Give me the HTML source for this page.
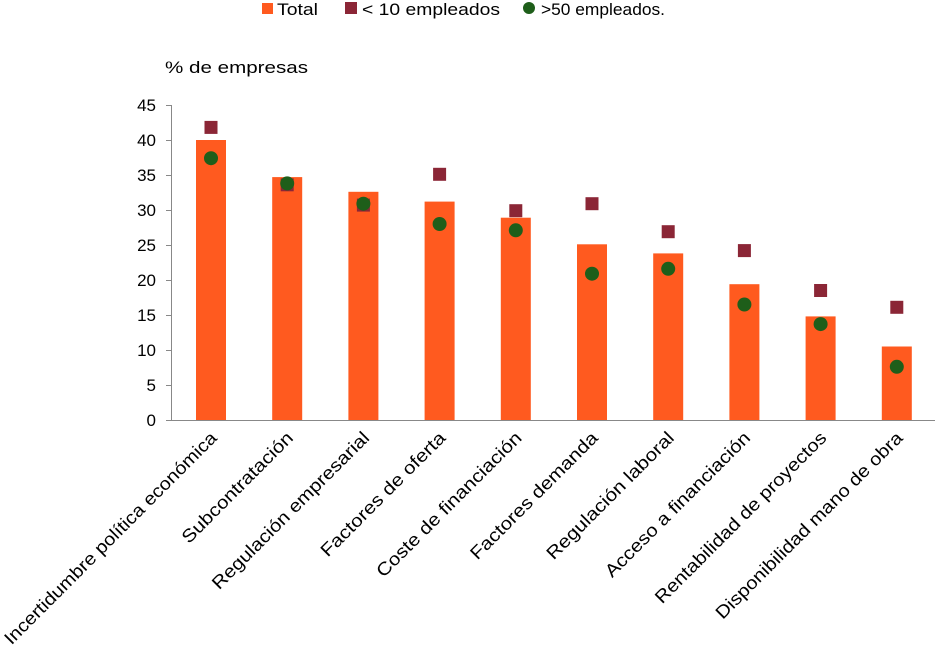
<!DOCTYPE html>
<html><head><meta charset="utf-8"><style>body{margin:0;background:#fff}svg{display:block}text{font-family:"Liberation Sans",sans-serif;fill:#000}</style></head><body>
<svg width="936" height="651" viewBox="0 0 936 651" xmlns="http://www.w3.org/2000/svg">
<rect x="262" y="3" width="11" height="11" fill="#ff5a1f"/><text x="277" y="15" font-size="17" textLength="41" lengthAdjust="spacingAndGlyphs">Total</text>
<rect x="345" y="2" width="12" height="12" fill="#8b2636"/><text x="362" y="15" font-size="17" textLength="138" lengthAdjust="spacingAndGlyphs">&lt; 10 empleados</text>
<circle cx="529" cy="8" r="6" fill="#1e5e1a"/><text x="541" y="15" font-size="17" textLength="124" lengthAdjust="spacingAndGlyphs">&gt;50 empleados.</text>
<text x="165" y="73" font-size="17" textLength="143" lengthAdjust="spacingAndGlyphs">% de empresas</text>
<g font-size="17" text-anchor="end">
<text x="156" y="426">0</text><text x="156" y="391">5</text><text x="156" y="356">10</text><text x="156" y="321">15</text><text x="156" y="286">20</text><text x="156" y="251">25</text><text x="156" y="216">30</text><text x="156" y="181">35</text><text x="156" y="146">40</text><text x="156" y="111">45</text>
</g>
<g stroke="#888" stroke-width="1">
<line x1="171.5" y1="105" x2="171.5" y2="420"/><line x1="171" y1="420.5" x2="935" y2="420.5"/>
<line x1="166" y1="420.5" x2="171" y2="420.5"/><line x1="166" y1="385.5" x2="171" y2="385.5"/><line x1="166" y1="350.5" x2="171" y2="350.5"/><line x1="166" y1="315.5" x2="171" y2="315.5"/><line x1="166" y1="280.5" x2="171" y2="280.5"/><line x1="166" y1="245.5" x2="171" y2="245.5"/><line x1="166" y1="210.5" x2="171" y2="210.5"/><line x1="166" y1="175.5" x2="171" y2="175.5"/><line x1="166" y1="140.5" x2="171" y2="140.5"/><line x1="166" y1="105.5" x2="171" y2="105.5"/>
</g>
<g fill="#ff5a1f">
<rect x="196" y="140" width="30" height="280"/>
<rect x="272.2" y="177.1" width="30" height="242.9"/>
<rect x="348.4" y="191.8" width="30" height="228.2"/>
<rect x="424.6" y="201.6" width="30" height="218.4"/>
<rect x="500.8" y="217.7" width="30" height="202.3"/>
<rect x="577" y="244.3" width="30" height="175.7"/>
<rect x="653.2" y="253.4" width="30" height="166.6"/>
<rect x="729.4" y="284.2" width="30" height="135.8"/>
<rect x="805.6" y="316.4" width="30" height="103.6"/>
<rect x="881.8" y="346.5" width="30" height="73.5"/>
</g>
<g fill="#8b2636">
<rect x="204.5" y="120.9" width="13" height="13"/>
<rect x="280.7" y="178.3" width="13" height="13"/>
<rect x="356.9" y="198.6" width="13" height="13"/>
<rect x="433.1" y="167.8" width="13" height="13"/>
<rect x="509.3" y="204.2" width="13" height="13"/>
<rect x="585.5" y="197.2" width="13" height="13"/>
<rect x="661.7" y="225.2" width="13" height="13"/>
<rect x="737.9" y="244.1" width="13" height="13"/>
<rect x="814.1" y="284" width="13" height="13"/>
<rect x="890.3" y="300.8" width="13" height="13"/>
</g>
<g fill="#1e5e1a">
<circle cx="211" cy="158.2" r="7"/>
<circle cx="287.2" cy="183.4" r="7"/>
<circle cx="363.4" cy="203.7" r="7"/>
<circle cx="439.6" cy="224" r="7"/>
<circle cx="515.8" cy="230.3" r="7"/>
<circle cx="592" cy="273.7" r="7"/>
<circle cx="668.2" cy="268.8" r="7"/>
<circle cx="744.4" cy="304.5" r="7"/>
<circle cx="820.6" cy="324.1" r="7"/>
<circle cx="896.8" cy="366.8" r="7"/>
</g>
<g font-size="18" text-anchor="end" lengthAdjust="spacingAndGlyphs">
<text transform="translate(218,439) rotate(-45)" textLength="292" lengthAdjust="spacingAndGlyphs">Incertidumbre política económica</text>
<text transform="translate(294.2,439) rotate(-45)" textLength="149" lengthAdjust="spacingAndGlyphs">Subcontratación</text>
<text transform="translate(370.4,439) rotate(-45)" textLength="214" lengthAdjust="spacingAndGlyphs">Regulación empresarial</text>
<text transform="translate(446.6,439) rotate(-45)" textLength="168" lengthAdjust="spacingAndGlyphs">Factores de oferta</text>
<text transform="translate(522.8,439) rotate(-45)" textLength="197" lengthAdjust="spacingAndGlyphs">Coste de financiación</text>
<text transform="translate(599,439) rotate(-45)" textLength="172" lengthAdjust="spacingAndGlyphs">Factores demanda</text>
<text transform="translate(675.2,439) rotate(-45)" textLength="172" lengthAdjust="spacingAndGlyphs">Regulación laboral</text>
<text transform="translate(751.4,439) rotate(-45)" textLength="197" lengthAdjust="spacingAndGlyphs">Acceso a financiación</text>
<text transform="translate(827.6,439) rotate(-45)" textLength="234" lengthAdjust="spacingAndGlyphs">Rentabilidad de proyectos</text>
<text transform="translate(903.8,439) rotate(-45)" textLength="256" lengthAdjust="spacingAndGlyphs">Disponibilidad mano de obra</text>
</g>
</svg>
</body></html>
